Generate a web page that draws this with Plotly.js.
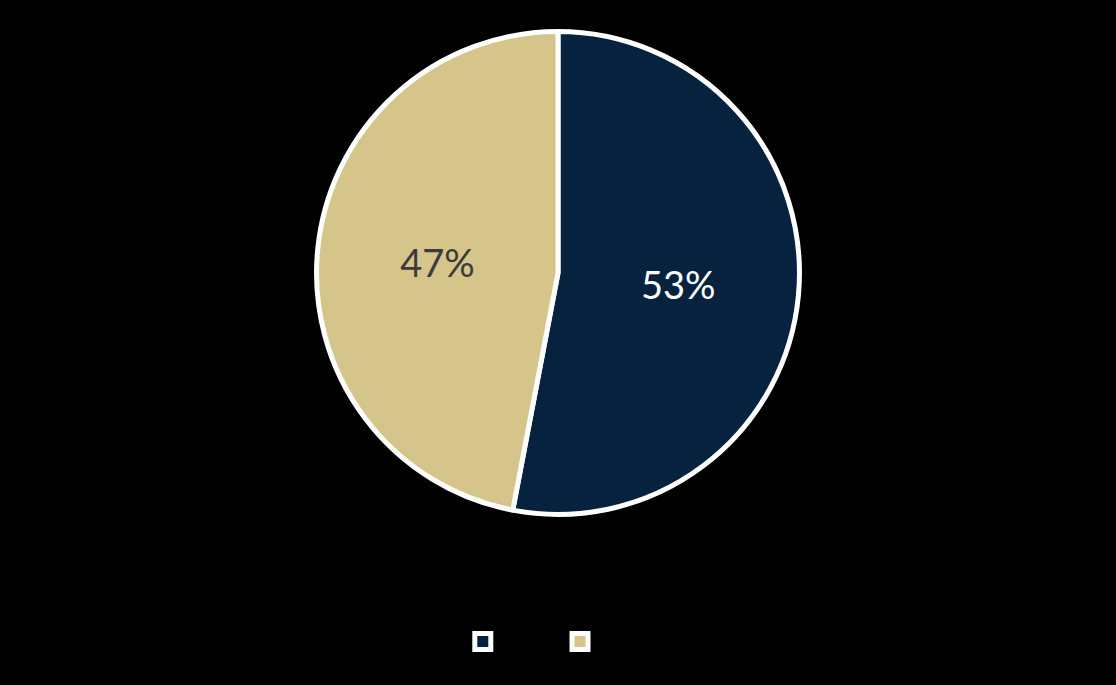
<!DOCTYPE html>
<html>
<head>
<meta charset="utf-8">
<script src="https://cdn.plot.ly/plotly-3.0.1.min.js"></script>
<style>html,body{margin:0;padding:0;background:#000;}#chart{width:1116px;height:685px;}</style>
</head>
<body>
<div id="chart"></div>
<script>
const labels = ["Male", "Female"];
const values = [53, 47];
const colors = ["#07223f", "#d5c58a"];
const textColors = ["#ffffff", "#3b3b3b"];

const pieTrace = {
  type: "pie",
  labels: labels,
  values: values,
  sort: false,
  direction: "clockwise",
  rotation: 0,
  marker: {colors: colors, line: {color: "#ffffff", width: 5}},
  textinfo: "percent",
  texttemplate: "%{percent:.0%}",
  textposition: "inside",
  insidetextorientation: "horizontal",
  insidetextfont: {family: "Lato, sans-serif", size: 38, color: textColors},
  hoverinfo: "none",
  showlegend: false,
  domain: {x: [0, 1], y: [0.249, 0.954]}
};

const legendTraces = labels.map((lab, i) => ({
  type: "scatter",
  mode: "markers",
  x: [null],
  y: [null],
  name: lab,
  showlegend: true,
  hoverinfo: "none",
  marker: {symbol: "square", size: 16, color: colors[i], line: {color: "#ffffff", width: 5}}
}));

const layout = {
  width: 1116,
  height: 685,
  paper_bgcolor: "#000000",
  plot_bgcolor: "#000000",
  margin: {l: 0, r: 0, t: 0, b: 0},
  xaxis: {visible: false},
  yaxis: {visible: false},
  showlegend: true,
  legend: {
    orientation: "h",
    x: 0.4147,
    xanchor: "left",
    y: 0.063,
    yanchor: "middle",
    traceorder: "normal",
    font: {family: "Lato, sans-serif", size: 24, color: "#000000"},
    bgcolor: "rgba(0,0,0,0)"
  }
};

Plotly.newPlot("chart", [pieTrace].concat(legendTraces), layout, {displayModeBar: false, staticPlot: true});
</script>
</body>
</html>
